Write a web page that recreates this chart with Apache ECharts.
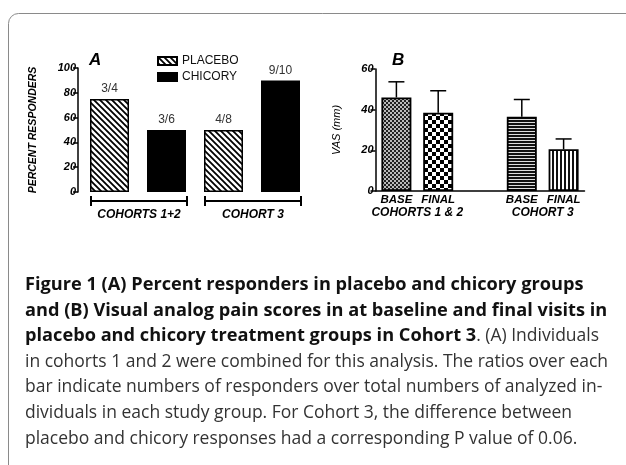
<!DOCTYPE html>
<html>
<head>
<meta charset="utf-8">
<script src="https://cdn.jsdelivr.net/npm/echarts@6/dist/echarts.min.js"></script>
<style>
  html, body { margin: 0; padding: 0; background: #fff; }
  #main { width: 626px; height: 465px; }
</style>
</head>
<body>
<div id="main"></div>
<script>
// panel A: percent responders
var cohortsA = ['COHORTS 1+2', 'COHORT 3'];
var placeboPct = [75, 50];
var chicoryPct = [50, 90];
var placeboRatio = ['3/4', '4/8'];
var chicoryRatio = ['3/6', '9/10'];

// panel B: VAS scores (mean and top of error bar)
var cohortsB = ['COHORTS 1 & 2', 'COHORT 3'];
var vasBase = [46, 36.5];
var vasFinal = [38.5, 20.5];
var vasBaseUpper = [53.7, 45];
var vasFinalUpper = [49.3, 25.6];

var captionLines = [
  '{b|Figure 1 }{b|(A) Percent responders in placebo and chicory groups}',
  '{b|and (B) Visual analog pain scores in at baseline and final visits in}',
  '{b|placebo and chicory treatment groups in Cohort 3}{n|. (A) Individuals}',
  '{n|in cohorts 1 and 2 were combined for this analysis. The ratios over each}',
  '{n|bar indicate numbers of responders over total numbers of analyzed in-}',
  '{n|dividuals in each study group. For Cohort 3, the difference between}',
  '{n|placebo and chicory responses had a corresponding P value of 0.06.}'
];

var FONT = 'Liberation Sans, Arial, sans-serif';
var CAP_FONT = 'Open Sans, sans-serif';

// fill patterns
function pattern(kind) {
  var c = document.createElement('canvas');
  var ctx;
  if (kind == 'diag') {
    c.width = 6; c.height = 6;
    ctx = c.getContext('2d');
    ctx.fillStyle = '#fff'; ctx.fillRect(0, 0, 6, 6);
    ctx.strokeStyle = '#000'; ctx.lineWidth = 1.8;
    ctx.beginPath();
    ctx.moveTo(-1, -1); ctx.lineTo(7, 7);
    ctx.moveTo(-4, 2); ctx.lineTo(4, 10);
    ctx.moveTo(2, -4); ctx.lineTo(10, 4);
    ctx.stroke();
  } else if (kind == 'fine') {
    c.width = 4; c.height = 4;
    ctx = c.getContext('2d');
    ctx.fillStyle = '#bbb'; ctx.fillRect(0, 0, 4, 4);
    ctx.fillStyle = '#222'; ctx.fillRect(0, 0, 2, 2); ctx.fillRect(2, 2, 2, 2);
  } else if (kind == 'coarse') {
    c.width = 8; c.height = 8;
    ctx = c.getContext('2d');
    ctx.fillStyle = '#fff'; ctx.fillRect(0, 0, 8, 8);
    ctx.fillStyle = '#000'; ctx.fillRect(0, 0, 4, 4); ctx.fillRect(4, 4, 4, 4);
  } else if (kind == 'hlines') {
    c.width = 4; c.height = 3;
    ctx = c.getContext('2d');
    ctx.fillStyle = '#ddd'; ctx.fillRect(0, 0, 4, 3);
    ctx.fillStyle = '#111'; ctx.fillRect(0, 0, 4, 2);
  } else {
    c.width = 4; c.height = 4;
    ctx = c.getContext('2d');
    ctx.fillStyle = '#fff'; ctx.fillRect(0, 0, 4, 4);
    ctx.fillStyle = '#111'; ctx.fillRect(0, 0, 2, 4);
  }
  return { image: c, repeat: 'repeat' };
}

// A: 4 slots, placebo / chicory per cohort
var slotsA = [], placeboData = [], chicoryData = [], bracketData = [];
cohortsA.forEach(function (g, i) {
  slotsA.push(g + ' placebo', g + ' chicory');
  placeboData.push(placeboPct[i], '-');
  chicoryData.push('-', chicoryPct[i]);
  bracketData.push([2 * i, 2 * i + 1, 0]);
});
var ratioA = [placeboRatio[0], chicoryRatio[0], placeboRatio[1], chicoryRatio[1]];

// B: 5 slots with an empty gap between cohorts
var slotsB = ['BASE', 'FINAL', '', 'BASE', 'FINAL'];
var pats = [pattern('fine'), pattern('coarse'), null, pattern('hlines'), pattern('vlines')];
var vasData = [], errData = [];
[vasBase[0], vasFinal[0], null, vasBase[1], vasFinal[1]].forEach(function (v, i) {
  vasData.push(v == null ? '-' : { value: v, itemStyle: { color: pats[i] } });
});
[vasBaseUpper[0], vasFinalUpper[0], null, vasBaseUpper[1], vasFinalUpper[1]].forEach(function (u, i) {
  if (u != null) errData.push([i, vasData[i].value, u]);
});
var groupB = [[0, 1, 0], [3, 4, 0]];

var BAR_A = 39, BAR_B = 30;
var chart = echarts.init(document.getElementById('main'), null, { renderer: 'canvas' });

var yAxisCommon = {
  type: 'value',
  splitLine: { show: false },
  axisLine: { show: true, lineStyle: { color: '#000', width: 1.5 } },
  axisTick: { show: true, length: 5, lineStyle: { color: '#000', width: 1.5 } },
  axisLabel: { fontFamily: FONT, fontStyle: 'italic', fontWeight: 'bold', fontSize: 11, color: '#000', margin: 2 },
  nameLocation: 'middle',
  nameRotate: 90,
  nameTextStyle: { fontFamily: FONT, fontStyle: 'italic', fontWeight: 'bold', fontSize: 10.5, color: '#000' }
};
var groupFont = 'italic bold 12px ' + FONT;

var option = {
  animation: false,
  backgroundColor: '#fff',
  grid: [
    { left: 81, top: 68, width: 228, height: 124 },
    { left: 375.5, top: 69, width: 209, height: 122 }
  ],
  legend: {
    data: ['PLACEBO', 'CHICORY'],
    orient: 'vertical',
    left: 152, top: 50,
    itemWidth: 19, itemHeight: 8, itemGap: 4,
    icon: 'rect',
    textStyle: { fontFamily: FONT, fontSize: 12, color: '#111' }
  },
  xAxis: [
    { type: 'category', gridIndex: 0, data: slotsA,
      axisLine: { show: false }, axisTick: { show: false }, axisLabel: { show: false } },
    { type: 'category', gridIndex: 1, data: slotsB,
      axisLine: { show: true, lineStyle: { color: '#000', width: 1.5 } },
      axisTick: { show: false },
      axisLabel: { fontFamily: FONT, fontStyle: 'italic', fontWeight: 'bold', fontSize: 11.5, color: '#000', margin: 3, interval: 0 } }
  ],
  yAxis: [
    Object.assign({}, yAxisCommon, { gridIndex: 0, min: 0, max: 100, interval: 20, offset: 3,
      name: 'PERCENT RESPONDERS', nameGap: 39 }),
    Object.assign({}, yAxisCommon, { gridIndex: 1, min: 0, max: 60, interval: 20,
      name: 'VAS (mm)', nameGap: 33,
      nameTextStyle: { fontFamily: FONT, fontStyle: 'italic', fontSize: 11, color: '#000' } })
  ],
  series: [
    { name: 'PLACEBO', type: 'bar', xAxisIndex: 0, yAxisIndex: 0, barWidth: BAR_A, barGap: '-100%',
      data: placeboData,
      itemStyle: { color: pattern('diag'), borderColor: '#000', borderWidth: 1.5 },
      label: { show: true, position: 'top', distance: 4, fontFamily: FONT, fontSize: 12, color: '#333',
        formatter: function (p) { return ratioA[p.dataIndex]; } } },
    { name: 'CHICORY', type: 'bar', xAxisIndex: 0, yAxisIndex: 0, barWidth: BAR_A, barGap: '-100%',
      data: chicoryData,
      itemStyle: { color: '#000', borderColor: '#000', borderWidth: 1.5 },
      label: { show: true, position: 'top', distance: 4, fontFamily: FONT, fontSize: 12, color: '#333',
        formatter: function (p) { return ratioA[p.dataIndex]; } } },
    { type: 'custom', xAxisIndex: 0, yAxisIndex: 0, clip: false, silent: true,
      data: bracketData, encode: { x: [0, 1], y: 2 },
      renderItem: function (params, api) {
        var a = api.coord([api.value(0), 0]);
        var b = api.coord([api.value(1), 0]);
        var x0 = a[0] - BAR_A / 2 + 1, x1 = b[0] + BAR_A / 2 + 1, y = a[1] + 9;
        var st = { stroke: '#000', lineWidth: 2 };
        return { type: 'group', children: [
          { type: 'line', shape: { x1: x0, y1: y, x2: x1, y2: y }, style: st },
          { type: 'line', shape: { x1: x0, y1: y - 5, x2: x0, y2: y + 5 }, style: st },
          { type: 'line', shape: { x1: x1, y1: y - 5, x2: x1, y2: y + 5 }, style: st },
          { type: 'text', style: { text: cohortsA[params.dataIndex], x: (x0 + x1) / 2, y: y + 8,
            align: 'center', verticalAlign: 'top', fill: '#000', font: groupFont } }
        ] };
      } },
    { name: 'VAS', type: 'bar', xAxisIndex: 1, yAxisIndex: 1, barWidth: BAR_B,
      data: vasData,
      itemStyle: { borderColor: '#000', borderWidth: 1.8 } },
    { type: 'custom', xAxisIndex: 1, yAxisIndex: 1, clip: false, silent: true, z: 1,
      data: errData, encode: { x: 0, y: [1, 2] },
      renderItem: function (params, api) {
        var m = api.coord([api.value(0), api.value(1)]);
        var u = api.coord([api.value(0), api.value(2)]);
        var st = { stroke: '#000', lineWidth: 1.5 };
        return { type: 'group', children: [
          { type: 'line', shape: { x1: m[0], y1: m[1], x2: u[0], y2: u[1] }, style: st },
          { type: 'line', shape: { x1: u[0] - 8, y1: u[1], x2: u[0] + 8, y2: u[1] }, style: st }
        ] };
      } },
    { type: 'custom', xAxisIndex: 1, yAxisIndex: 1, clip: false, silent: true,
      data: groupB, encode: { x: [0, 1], y: 2 },
      renderItem: function (params, api) {
        var a = api.coord([api.value(0), 0]);
        var b = api.coord([api.value(1), 0]);
        return { type: 'text', style: { text: cohortsB[params.dataIndex], x: (a[0] + b[0]) / 2, y: a[1] + 16,
          align: 'center', verticalAlign: 'top', fill: '#000', font: groupFont } };
      } }
  ],
  graphic: [
    { type: 'rect', shape: { x: 8.5, y: 13.5, width: 640, height: 480, r: [10, 0, 0, 0] },
      style: { fill: 'none', stroke: '#8a8a8a', lineWidth: 1 }, silent: true },
    { type: 'text', left: 89, top: 52, style: { text: 'A', font: 'italic bold 17px ' + FONT, fill: '#000' } },
    { type: 'text', left: 392, top: 52, style: { text: 'B', font: 'italic bold 17px ' + FONT, fill: '#000' } }
  ].concat(captionLines.map(function (t, i) {
    return { type: 'text', left: 25, top: 276 + i * 25.6,
      style: { text: t, rich: {
        b: { fontFamily: CAP_FONT, fontWeight: 'bold', fontSize: 18.2, fill: '#111' },
        n: { fontFamily: CAP_FONT, fontSize: 17.5, fill: '#333' }
      } } };
  }))
};
chart.setOption(option);
</script>
</body>
</html>
